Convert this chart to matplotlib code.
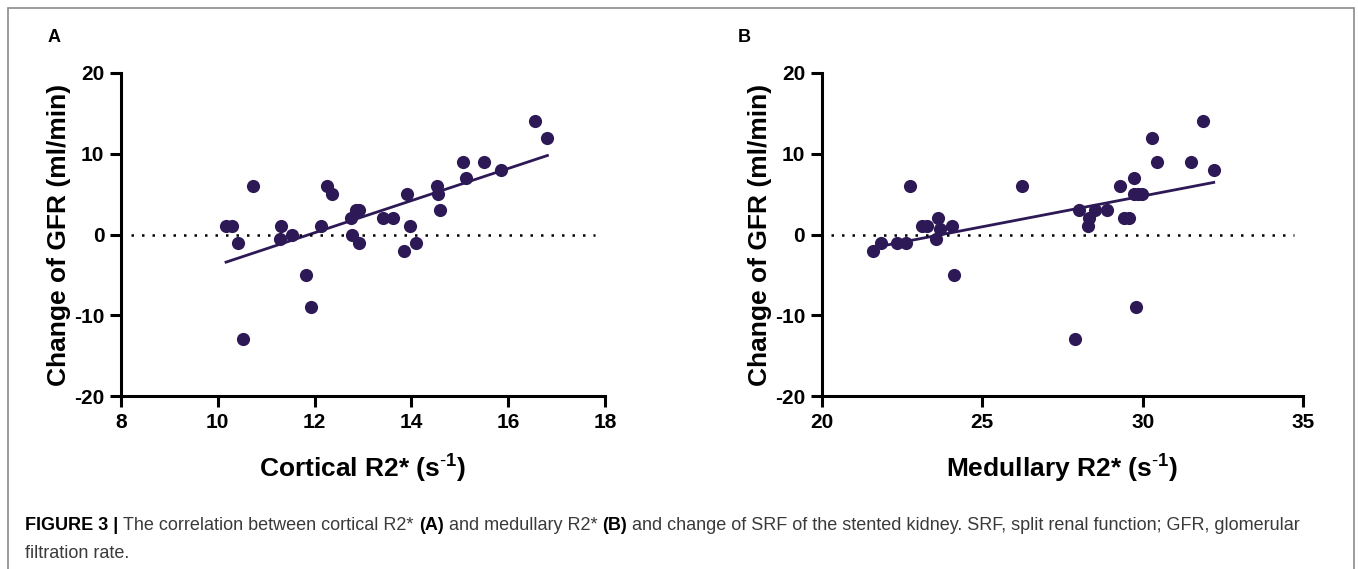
import matplotlib.pyplot as plt
import numpy as np
from matplotlib.patches import Rectangle

plt.rcParams['font.family'] = ['Liberation Sans', 'DejaVu Sans']
plt.rcParams['mathtext.fontset'] = 'custom'
plt.rcParams['mathtext.rm'] = 'Liberation Sans'
plt.rcParams['mathtext.bf'] = 'Liberation Sans:bold'
plt.rcParams['axes.unicode_minus'] = False

# panel A: cortical R2* vs change of GFR
cortical_r2 = [10.17, 10.29, 10.42, 10.72, 10.52, 11.30, 11.29, 11.53, 11.82, 11.92,
               12.13, 12.25, 12.36, 12.76, 12.85, 12.92, 12.77, 12.91, 13.41, 13.61,
               13.85, 13.91, 13.97, 14.09, 14.53, 14.54, 14.60, 15.07, 15.13, 15.51,
               15.86, 16.55, 16.81]
gfr_a = [1, 1, -1, 6, -13, 1, -0.5, 0, -5, -9,
         1, 6, 5, 2, 3, 3, 0, -1, 2, 2,
         -2, 5, 1, -1, 6, 5, 3, 9, 7, 9,
         8, 14, 12]

# panel B: medullary R2* vs change of GFR
medullary_r2 = [21.59, 21.85, 22.34, 22.64, 22.75, 23.12, 23.27, 23.63, 23.55, 23.69,
                24.05, 24.13, 26.23, 27.90, 28.00, 28.31, 28.28, 28.52, 28.90, 29.30,
                29.40, 29.57, 29.72, 29.73, 29.97, 29.85, 29.78, 30.28, 30.44, 31.50,
                31.88, 32.21]
gfr_b = [-2, -1, -1, -1, 6, 1, 1, 2, -0.5, 0.7,
         1, -5, 6, -13, 3, 2, 1, 3, 3, 6,
         2, 2, 7, 5, 5, 5, -9, 12, 9, 9,
         14, 8]

dot_color = '#2d1956'

fig = plt.figure(figsize=(13.58, 5.69), dpi=100)

# outer frame (bottom edge runs off the page)
fig.patches.append(Rectangle((8/1358, -0.1), 1346/1358, 1.1 - 8/569,
                             transform=fig.transFigure, fill=False,
                             edgecolor='#8a8a8a', linewidth=1.2))

ax1 = fig.add_axes([121/1358, 1 - 396/569, 484/1358, 323/569])
ax2 = fig.add_axes([821.7/1358, 1 - 396/569, 481.6/1358, 323/569])


def panel(ax, x, y, xlim, xticks, xlabel):
    x = np.array(x)
    y = np.array(y)
    ax.scatter(x, y, s=90, color=dot_color, zorder=3, linewidths=0)
    k, b = np.polyfit(x, y, 1)
    xs = np.array([x.min(), x.max()])
    ax.plot(xs, k * xs + b, color=dot_color, lw=2.0, zorder=2)
    ax.axhline(0, xmin=0.02, xmax=0.98, color='black', ls=(0, (1, 3.2)), lw=1.8)
    ax.set_xlim(*xlim)
    ax.set_ylim(-20, 20)
    ax.set_xticks(xticks)
    ax.set_yticks([-20, -10, 0, 10, 20])
    for s in ['top', 'right']:
        ax.spines[s].set_visible(False)
    for s in ['left', 'bottom']:
        ax.spines[s].set_linewidth(2.2)
    ax.tick_params(width=2.2, length=8, labelsize=15, pad=4)
    for lab in ax.get_xticklabels() + ax.get_yticklabels():
        lab.set_fontweight('bold')
    ax.set_xlabel(xlabel, fontsize=19, fontweight='bold', labelpad=14)
    ax.set_ylabel('Change of GFR (ml/min)', fontsize=19, fontweight='bold', labelpad=2)


panel(ax1, cortical_r2, gfr_a, (8, 18), [8, 10, 12, 14, 16, 18],
      r'Cortical R2* (s$^{\mathbf{\text{-}1}}$)')
panel(ax2, medullary_r2, gfr_b, (20, 35), [20, 25, 30, 35],
      r'Medullary R2* (s$^{\mathbf{\text{-}1}}$)')

fig.text(48/1358, 1 - 37/569, 'A', fontsize=13, fontweight='bold', va='center')
fig.text(738/1358, 1 - 37/569, 'B', fontsize=13, fontweight='bold', va='center')

cap = [('FIGURE 3 | ', 'bold', 'black'),
       ('The correlation between cortical R2* ', 'normal', '#3a3a3a'),
       ('(A)', 'bold', 'black'),
       (' and medullary R2* ', 'normal', '#3a3a3a'),
       ('(B)', 'bold', 'black'),
       (' and change of SRF of the stented kidney. SRF, split renal function; GFR, glomerular',
        'normal', '#3a3a3a')]
x0 = 25 / 1358
r = fig.canvas.get_renderer()
for txt, w, c in cap:
    t = fig.text(x0, 1 - 525/569, txt, fontsize=13, fontweight=w, color=c, va='center')
    bb = t.get_window_extent(renderer=r)
    x0 += bb.width / 1358
fig.text(25/1358, 1 - 553/569, 'filtration rate.', fontsize=13, color='#3a3a3a', va='center')

fig.savefig('out.png', dpi=100)
